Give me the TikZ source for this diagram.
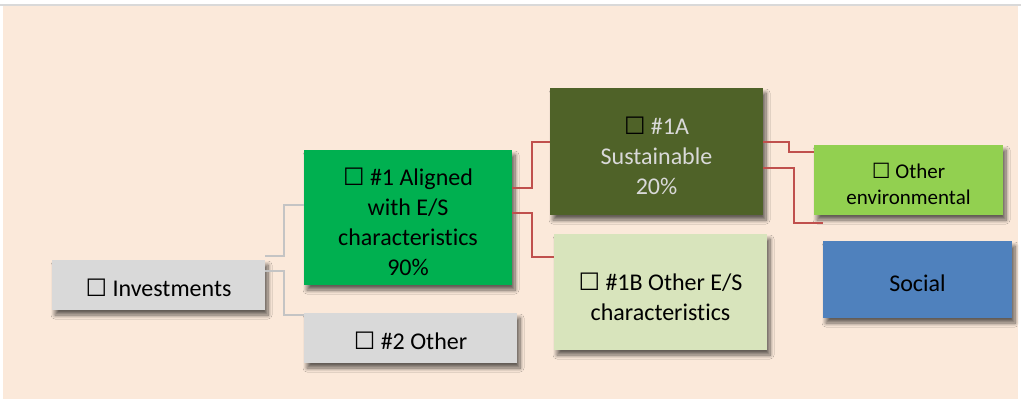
\documentclass[tikz,border=0pt]{standalone}
\usepackage{fontspec}
\setmainfont{Carlito}[Ligatures=NoCommon]
\newfontfamily\symfont{DejaVu Sans}
\usepackage{xcolor}
\usetikzlibrary{shadows.blur}
\definecolor{peach}{HTML}{FBE9DA}
\definecolor{rulegray}{HTML}{D9D9D9}
\definecolor{boxgray}{HTML}{D9D9D9}
\definecolor{alignedgreen}{HTML}{00B050}
\definecolor{olive}{HTML}{4F6228}
\definecolor{palegreen}{HTML}{D8E4BC}
\definecolor{limegreen}{HTML}{92D050}
\definecolor{socialblue}{HTML}{4F81BD}
\definecolor{linkred}{HTML}{C0504D}
\definecolor{linkgray}{HTML}{C4C4C4}
\newcommand{\boxmark}{{\symfont\char"2610}}
\newcommand{\toplift}{\rule{0pt}{1.1em}}

\begin{document}
\begin{tikzpicture}[
  x=1pt, y=-1pt,
  font=\fontsize{24}{30}\selectfont,
  catbox/.style={align=center, inner sep=0pt, text=black,
    execute at begin node={\rule{0pt}{1em}},
    blur shadow={shadow xshift=3pt, shadow yshift=-5pt, shadow blur radius=4pt,
      shadow blur steps=8, shadow opacity=60}},
  graylink/.style={draw=linkgray, line width=1.5pt},
  redlink/.style={draw=linkred, line width=1.5pt}
]
  \useasboundingbox (0,0) rectangle (1021,399);
  \fill[peach] (3,6) rectangle (1018,399);
  \draw[rulegray, line width=2.5pt] (0,5) -- (1021,5);

  \node[catbox, fill=boxgray, minimum width=213pt, minimum height=50pt] (invest) at (158.5,285) {\boxmark{} Investments};
  \node[catbox, fill=alignedgreen, minimum width=208pt, minimum height=135pt] (aligned) at (408,217.5) {\toplift\boxmark{} \#1 Aligned\\with E/S\\characteristics\\90\%};
  \node[catbox, fill=boxgray, minimum width=213pt, minimum height=50pt] (other) at (410.5,338) {\boxmark{} \#2 Other};
  \node[catbox, fill=olive, text=rulegray, minimum width=213pt, minimum height=127pt] (sust) at (656.5,151.5) {\toplift{\color{black}\boxmark}{} \#1A\\Sustainable\\20\%};
  \node[catbox, fill=palegreen, minimum width=213pt, minimum height=116pt] (otheres) at (660.5,292) {\toplift\boxmark{} \#1B Other E/S\\characteristics};
  \node[catbox, fill=limegreen, minimum width=189pt, minimum height=70pt, font=\fontsize{21}{26}\selectfont] (env) at (908.5,180) {\toplift\boxmark{} Other\\environmental};
  \node[catbox, fill=socialblue, minimum width=189pt, minimum height=77pt] (social) at (917.5,279.5) {Social};

  \draw[graylink] ([yshift=4pt]invest.north east) -- ++(19,0) |- ([yshift=12.5pt]aligned.west);
  \draw[graylink] ([yshift=14pt]invest.east) -- ++(19,0) |- ([yshift=23pt]other.west);
  \draw[redlink] ([yshift=29.5pt]aligned.east) -- ++(20,0) |- ([yshift=9.5pt]sust.west);
  \draw[redlink] ([yshift=4.5pt]aligned.east) -- ++(20,0) |- ([yshift=35pt]otheres.west);
  \draw[redlink] ([yshift=9.5pt]sust.east) -- ++(26,0) |- ([yshift=28pt]env.west);
  \draw[redlink] ([yshift=-16.5pt]sust.east) -- ++(31,0) |- ([yshift=56.5pt]social.west);
\end{tikzpicture}
\end{document}
